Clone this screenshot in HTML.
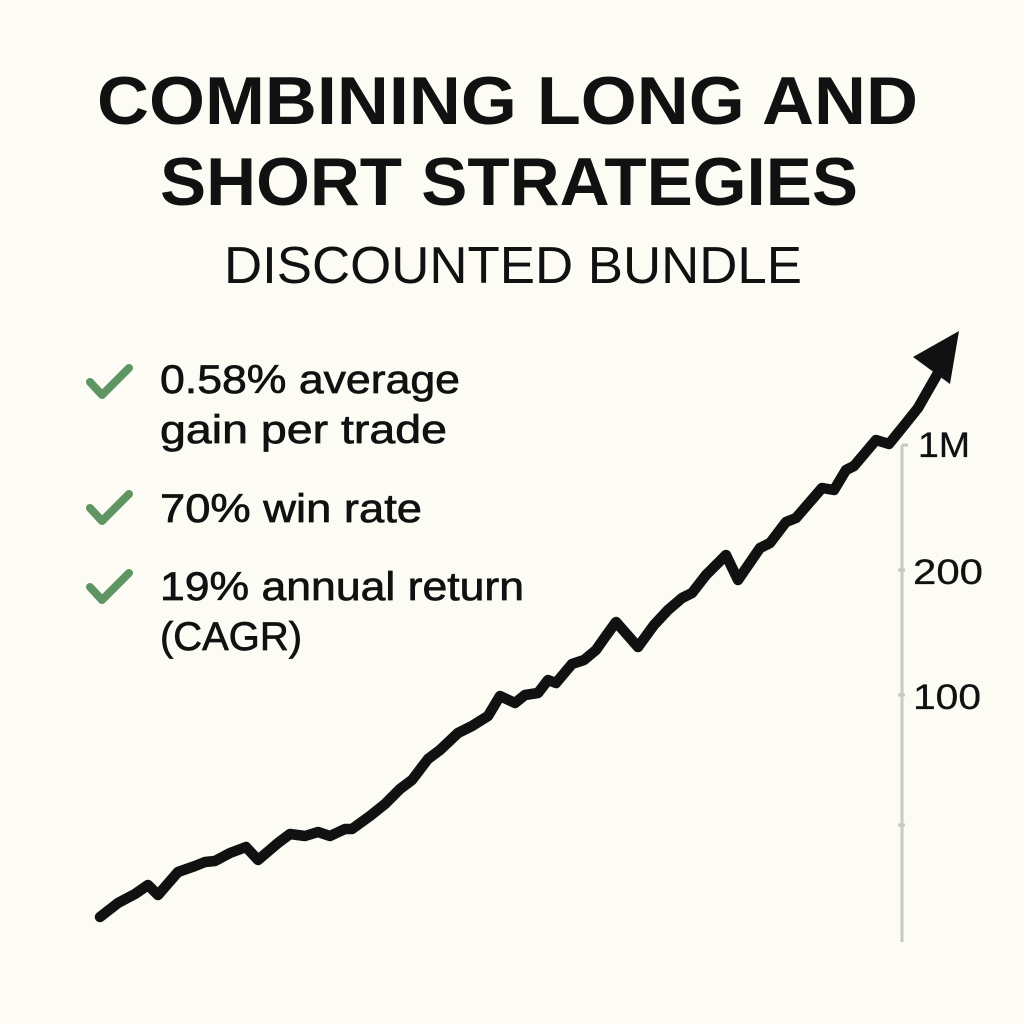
<!DOCTYPE html>
<html><head><meta charset="utf-8"><style>
html,body{margin:0;padding:0;background:#fdfcf4;}
svg{display:block}
text{font-family:"Liberation Sans",sans-serif;fill:#111;}
</style></head><body>
<svg width="1024" height="1024" viewBox="0 0 1024 1024">
<rect width="1024" height="1024" fill="#fdfcf4"/>
<text x="97" y="124" font-size="68" font-weight="bold" textLength="821" lengthAdjust="spacingAndGlyphs">COMBINING LONG AND</text>
<text x="160" y="205" font-size="68" font-weight="bold" textLength="698" lengthAdjust="spacingAndGlyphs">SHORT STRATEGIES</text>
<text x="224" y="283" font-size="52" textLength="578" lengthAdjust="spacingAndGlyphs">DISCOUNTED BUNDLE</text>

<g fill="none" stroke="#5f9563" stroke-width="8" stroke-linecap="round" stroke-linejoin="round">
<polyline points="90,382 102,395 129,368"/>
<polyline points="90,508 102,521 129,494"/>
<polyline points="90,587 102,600 129,573"/>
</g>
<g font-size="40" stroke="#111" stroke-width="0.7">
<text x="160" y="393" textLength="300" lengthAdjust="spacingAndGlyphs">0.58% average</text>
<text x="160" y="443" textLength="287" lengthAdjust="spacingAndGlyphs">gain per trade</text>
<text x="160" y="522" textLength="262" lengthAdjust="spacingAndGlyphs">70% win rate</text>
<text x="160" y="600" textLength="364" lengthAdjust="spacingAndGlyphs">19% annual return</text>
<text x="160" y="650" textLength="142" lengthAdjust="spacingAndGlyphs">(CAGR)</text>
</g>

<g stroke="#c8c8c4" stroke-width="3" fill="none">
<line x1="902" y1="445" x2="902" y2="942"/>
<line x1="902" y1="445" x2="908" y2="445"/>
<line x1="898" y1="570" x2="905" y2="570"/>
<line x1="898" y1="695" x2="905" y2="695"/>
<line x1="898" y1="825" x2="905" y2="825"/>
</g>
<g font-size="35" stroke="#111" stroke-width="0.3">
<text x="918" y="457" textLength="52" lengthAdjust="spacingAndGlyphs">1M</text>
<text x="913" y="584" textLength="70" lengthAdjust="spacingAndGlyphs">200</text>
<text x="913" y="709" textLength="68" lengthAdjust="spacingAndGlyphs">100</text>
</g>

<polyline fill="none" stroke="#111" stroke-width="10.5" stroke-linejoin="round" stroke-linecap="round" points="100,917 118,903 135,894 148,885 158,895 178,872 195,866 205,862 215,861 230,853 246,847 258,860 278,843 290,834 305,836 318,832 330,836 345,829 352,829 370,816 385,804 400,789 412,780 428,759 440,750 458,733 472,726 488,716 500,696 515,703 525,695 538,693 548,680 556,683 572,664 584,660 596,650 603,640 616,622 638,647 654,625 668,610 682,598 692,593 706,575 726,555 738,580 760,548 770,543 786,522 796,518 822,488 834,490 846,470 854,466 876,440 889,444 902,428 918,408 938,373"/>
<polygon points="959,331 913,357 950,384" fill="#111"/>
</svg>
</body></html>
